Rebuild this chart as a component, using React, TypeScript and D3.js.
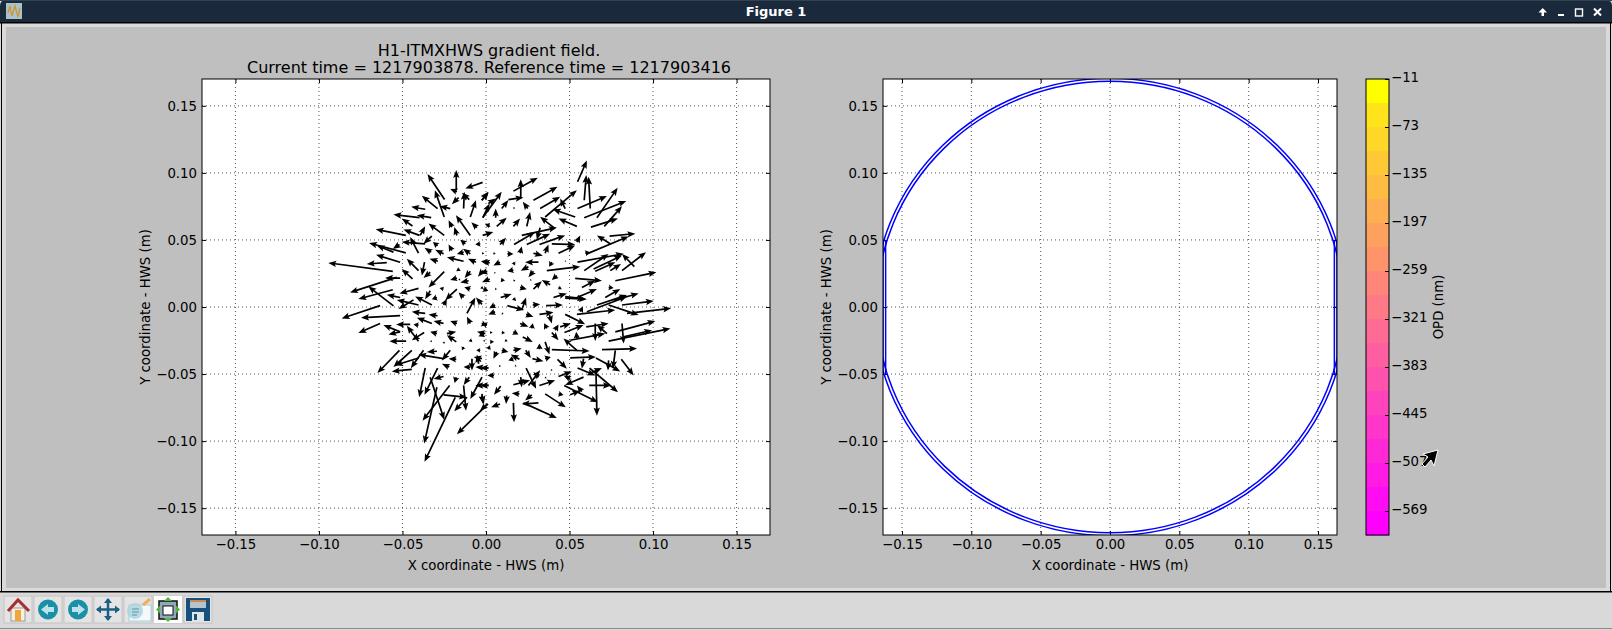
import { useRef, useEffect } from "react";
import * as d3 from "d3";

// gradient field samples: [x, y, u, v] in mm, split by quadrant of the left plot
const arrowsUpperLeft = [
  [-24.8, 80.1, -10.2, 19], [-17.8, 87.1, 0, 15], [-2, 92.9, -10.4, -4.5], [-25, 67.1, -5.6, 20],
  [-29, 73.4, -9.4, 9.5], [-13.4, 73.4, 0.4, 12.5], [-17.4, 85.9, -4, 2], [-16.4, 81.6, -4, -5],
  [-10, 80.1, -4.4, 5], [-36.4, 72.9, -8.4, 1.8], [-21.4, 73.4, -6.4, 1.8], [-39.8, 66.6, -15.6, 2.3],
  [-32.8, 66.6, -8.6, 1.8], [-44, 60.4, -6.4, 5.5], [-9.4, 67.1, 3.4, 12.5], [-1.8, 67.1, 4, 10],
  [-2.4, 79.6, 4, 6], [-39.8, 53.4, -9.6, 4.3], [-48, 53.4, -18, 4.5], [-25, 53.4, -9.4, 8.8],
  [-39.4, 53.4, 3, 6.8], [-17.4, 53.4, -1.6, 6.3], [-9.4, 53.4, -8.6, 15], [-20.4, 59.6, -2, 5],
  [-5.4, 59.1, -3.4, 4], [-36.4, 47.1, -14, 1.3], [-40.4, 40.1, -5, 12], [-32.4, 52.9, -5, -5.8],
  [-48, 40.4, -22, 7.3], [-55.4, 40.9, -10, 5], [-51.8, 46.6, -4, -3.3], [-29, 45.6, -2.8, 2.8],
  [-12.4, 47.1, -3, 3], [-3.4, 47.1, -3, -0.5], [-32.8, 40.9, -4, 3.3], [-25.4, 39.6, -5, 3],
  [-9.4, 39.6, -4.4, 3.8], [-20.4, 42.1, -2, 4.5], [-13.4, 40.9, -4, -1.3], [-51.4, 33.4, -14.4, 5.5],
  [-59.4, 33.1, -12, -1], [-40.4, 27.1, -7, 8.8], [-55.8, 26.6, -38.6, 6.3], [-28.8, 34.1, -5, 1.8],
  [-13.4, 34.1, -10, 3], [-6, 33.4, -4.8, 2.5], [2.2, 32.9, -4.6, 1.3], [-36.8, 33.4, -1.6, -10],
  [-44, 20.9, -6.4, 7.5], [-33.4, 25.9, -4, -4.3], [-25, 26.4, -9.4, -11.8], [-15.8, 28.4, -2, -1.8],
  [-9.4, 26.6, -3.4, -5], [-1.8, 27.1, -3, -4.5], [-17.4, 21.6, -4, -1.5], [-51.4, 21.6, -9, 0],
  [-53.4, 22.1, -28, -11.3], [-10.4, 19.6, -5, -1.3], [2.2, 20.9, -4.6, -2.5], [-55.8, 12.9, -20.6, -7],
  [-40.4, 13.9, -11.4, -3.8], [-55.4, 0.8, -15, 14.5], [-25.4, 13.4, -2.4, 0.8], [-17.4, 13.4, -7, -8.3],
  [-13.4, 7.1, -3, 3.8], [-9.4, 13.4, -3.6, 1.3], [-1.8, 14.6, -1.6, -0.8], [-33.4, 12.1, -3, -6.3],
  [-51.4, 7.1, -8, 2], [-29.4, 7.1, -3, -1.3],
];

const arrowsUpperRight = [
  [54.8, 93.4, 5.6, 15.8], [58.8, 79.6, 1.2, 18.8], [62.4, 73.4, -1, 23.8], [28.4, 79.6, 14.4, 10],
  [32.4, 73.4, 12, 8.8], [16.4, 86.4, 14.6, 10], [20.8, 80.9, 0, 14.3], [13.4, 80.1, 9, 1.5],
  [9.4, 73.4, 4, 6.3], [25, 73.4, -3, 5], [-2, 66.6, 11.4, 19.3], [-2.6, 79.6, 4, 6.3],
  [1.4, 77.1, 4.4, 3.8], [5.8, 66.6, 0, 6.8], [35.4, 67.1, 19, 20], [54.8, 73.4, 17.6, 9.3],
  [66.4, 66.6, 12.4, 22.3], [58.8, 66.6, 25.2, 12.5], [70.8, 60.1, 10.6, 15], [62.8, 59.6, 16.2, 6.3],
  [53.4, 67.1, -13.4, 5.8], [47.4, 73.4, -3, 7.5], [41.4, 58.4, -9, 8.8], [54.4, 60.1, -11, 5.8],
  [24.4, 60.1, 2, 10.8], [16.4, 60.1, 4, 5.8], [6.4, 60.1, 6, 6.5], [0.4, 60.1, 2, 2.5],
  [-2, 53.4, 6.4, 2.5], [21.4, 53.4, 21, 5.8], [16.8, 46.6, 12.6, 9.3], [24.4, 46.6, 14, 8],
  [32, 46.6, 15.4, 6.8], [32.4, 59.1, -2, -9], [8.4, 46.6, 3.6, 5], [39.4, 47.1, 14, -0.5],
  [43.4, 40.1, 10, 5.8], [35.4, 40.1, 2, 6.5], [20.4, 40.1, 1, 5], [54.4, 48.4, 2, 5],
  [74.4, 47.1, -8, 6.3], [74, 52.9, 15.4, 1.8], [60.4, 39.6, 25, 13], [54.8, 33.4, 27.6, 6.3],
  [58.8, 27.1, 14.6, 12.5], [64.4, 28.4, 17, 10], [81.4, 27.1, 14.4, 13.8], [88.8, 30.1, -7.4, 9.5],
  [74.4, 27.1, 6.4, 5], [65.4, 26.6, 12, 6.8], [36.4, 27.1, 20, 3], [77.4, 19.6, 24.6, 6.3],
  [53.4, 21.4, 16, -1.8], [57.4, 14.6, 8, 5], [59.4, 40.1, 3, 0.8], [28.4, 40.1, 5.6, -1.8],
  [31.4, 33.4, -8, 0], [25.4, 30.1, -4.6, -3], [12.8, 39.6, 3.6, 0], [4.4, 40.1, 1.4, -0.5],
  [8.4, 33.4, -4, -2.5], [0.8, 33.4, -3.8, 0.8], [16.4, 33.4, 1, -2.5], [16.4, 27.6, -3.6, -1],
  [39.4, 33.4, -1.6, -3.3], [28.4, 26.6, -3, -4.5], [42.4, 23.4, -3, -3.3], [0.8, 26.6, -4.4, -1.5],
  [10.4, 20.9, -1.6, -2.5], [28.4, 13.4, 5, 5.8], [38.4, 16.6, -5, 3.5], [20.4, 14.6, 4, -1.3],
  [43.4, 14.6, 2, -1.3], [54.4, 7.1, 12, 6.3], [71.4, 7.1, 9, 6.3], [40.4, 7.1, 8, 3],
  [47.4, 6.6, 13, -0.8], [76.4, 5.1, 15, 5], [8.8, 7.1, 6.6, 2.5], [73.4, 14.6, 3, -0.5],
  [-1.6, 13.4, 3, -1.3],
];

const arrowsLowerLeft = [
  [-63.4, 1, -23, -9.5], [-51.4, -6.5, -23.4, -1.5], [-63.4, -12.3, -13, -7], [-51.4, -18.5, -10, 5],
  [-40.4, -25.5, -7, 11.5], [-51.4, -18.5, -7, -2], [-37, -19, -7.4, -5.8], [-47.8, -25.5, -10, 0],
  [-45.4, -13, -8.4, 0], [-36.4, -4.8, -8, 1.3], [-29, -6.5, -5.4, 1], [-32.4, -12.3, -9, 4.3],
  [-25.4, -12.3, -6, 1.8], [-40.4, -13.5, -3, 0.5], [-17.4, -12.3, -4, 1.8], [-29.4, -19.8, -4, 1.3],
  [-23.4, -19.8, 5.6, 1.3], [-17.8, -26, -5.6, 5], [-43.4, 5.3, -9, -6.8], [-40.4, 1.5, -13, 3.8],
  [-32.4, 1.5, -10, 6.3], [-11.4, -4.8, 5, 11.8], [-2.4, 2, -3.6, 5], [-25.4, 1.5, 2, 4.5],
  [-9.4, -12.3, -2, 5], [0.6, -13.5, -3, 1.3], [-51.8, -32.3, -13.2, -17], [-44.4, -32.3, -11, -12.5],
  [-37.4, -32.3, -7.6, -13.3], [-40.4, -38, -14, -5.5], [-44.4, -46.5, -12, -1.5], [-29.4, -33, -6, -0.5],
  [-25.4, -38.5, -15, 3], [-21.4, -32.3, -5, -7.5], [-17.8, -39, -4.6, 0.5], [-22, -44.8, -4.4, 2.5],
  [-9.4, -44.8, -4, 0], [-2.4, -38.5, -5, 1.3], [-4.4, -42.3, -1, 6.8], [1.6, -45.5, -8, 0.8],
  [-8.4, -38.5, 0, -8.8], [-36.4, -45.5, -3.6, -21.8], [-29, -45.5, -7.8, -20], [-33.4, -52.3, 8.4, -31.8],
  [-21.8, -58.5, -16.2, -26.3], [-29.4, -59.8, -7.6, -42], [-18.4, -67.3, -18.4, -48.1], [-25.4, -65.5, 14, -1.8],
  [-13.4, -58.5, 1.4, -18.8], [-11.4, -67.3, -7.6, -10.5], [-2.4, -52.3, -7, -16.3], [1.2, -72.3, -18.6, -22.5],
  [-25.4, -51.8, -6, -1.8], [-17.8, -52.3, -1, -4.3], [-10, -52.3, -3.4, -5.8], [1.6, -58.5, -8, 0],
  [-2.4, -64.8, 0.6, -7.5], [-13.4, -29.8, -1, -2.5], [-25.4, -26, 0.5, -1.5], [-8.4, -24.8, -2, -0.8],
  [-0.4, -19.8, -5, 1.3], [-3.4, -32.3, -2.4, 0],
];

const arrowsLowerRight = [
  [81.4, 1.5, 19, 3], [73.4, 1.5, 18, -7.5], [84.4, -4.8, 26.4, 3.8], [54.4, -5.5, 23, 3.3],
  [60.4, -3.5, 24, 11.3], [66.4, 1.5, 18, 7.5], [47.4, -5.5, 12, -7.3], [77.4, -18.5, 24, 8],
  [81.4, -12.3, 1, -15], [73.4, -25.5, 37, 9.5], [82.4, -22.3, 17, 5], [47, -19, 11.4, 5.5],
  [65.4, -12.3, 0, -13], [60, -14.8, 13.4, 2.5], [72.4, -19.8, -6, 6.3], [50.4, -24.8, 21, 5],
  [54.4, -23.5, -0.4, 5], [54.4, -32.3, -8, 8.8], [39.4, -31.8, 22.6, -1], [69.4, -31.8, 21, 0.8],
  [50.4, -38, 15.4, 0.8], [77.4, -32.3, -1.4, -13.8], [65.8, -38, 14.6, -10], [81, -39, 7.4, -12],
  [58.4, -38.5, -1, -7.5], [42.8, -39, 5.6, -7], [54.8, -45.5, 10.6, -5.5], [62, -45.5, 17, -18],
  [73.4, -39.8, -0.4, -7.5], [63, -49, 6.4, 3.5], [65.8, -46.5, 0.6, -34.5], [61.8, -58.5, 13, 0],
  [46.8, -58.5, 20.2, -12.5], [58.4, -52.3, -11, -5.8], [43.4, -51.8, 8, 3.8], [50.4, -53.5, -4, 2.5],
  [32, -58.5, 9.4, 3.8], [50.4, -65.5, 6, 3.3], [57.4, -63, -3, 4.5], [43.4, -64.8, 3, -0.8],
  [35.4, -64.8, 12.4, -10], [16.4, -71.5, 0.4, -14.5], [31.4, -71.5, -10, -0.8], [22.4, -71.5, 20, -11.3],
  [27.4, -65.5, -4, -4.3], [20, -64.8, -4.6, 0.5], [12.4, -66, -0.4, -6.3], [8.4, -72.3, -5.4, -2.5],
  [8.8, -59, -4, -6.5], [0.8, -72.3, -4.4, -5], [-2.6, -66, 1.4, -6.3], [16.4, -58, 10, 3.3],
  [20.8, -52.3, 0.6, -7.5], [24, -45.5, 6, -15.5], [25.4, -58.5, 7, 11.3], [31.4, -52.3, -3, 3.8],
  [1.4, -58.5, -5, 0], [4.8, -51, -4, 0], [1.4, -45.5, -5, 0], [16.4, -38.5, -3, -1.3],
  [20, -39, -5.2, 3.5], [6.4, -33.5, -2, -5], [9.4, -32.3, 4, -1.3], [16.4, -32.3, 5, 1.3],
  [23.8, -32.3, 3, -5.8], [27.8, -38.5, 6.6, -2], [35.4, -26, 2.6, -9.5], [32, -31.5, 0, 4.3],
  [35.4, -38.5, 3.4, 1.3], [22, -22.3, 6, -3.8], [16.4, -18.5, 3, -2], [2.4, -26, 2.4, 0],
  [1.4, -31.5, 1, 3], [9.4, -19, 2, -0.3], [2.4, -19, 1.6, 0], [11.4, -24.8, 1.6, -0.8],
  [-3.6, -19.8, 3, -2.5], [39.4, -19, 4, -5.8], [41.4, -17.3, 2, 4.3], [36.4, -16, -1.6, 3.8],
  [27.4, -16, 0.6, 3.8], [20.4, -12.3, 5, -2.5], [44.4, -14.8, 6.4, 2.5], [38, -6, 1.4, -6.3],
  [32, -5.5, 8.4, 1.5], [24, -5.5, 4.4, -1.8], [12.8, 1, 10, -3.3], [21.4, -2.3, 2.6, 9.3],
  [28, 1.5, 4.4, 0.5], [36, 1, 10, 0.5], [47.4, 7.8, 12, -1.8], [56.4, -3.5, 1.6, 3.8],
  [5.4, 1.5, -3.4, -2.5], [5.4, -3.5, -4, -2], [16.4, 6.5, 1.6, -2], [-2.6, -12.3, 3, -1.3],
];

// the tiny ones around the centre
const arrowsCentre = [
  [16.4, 73.4, 1, 0.8], [2.4, 60.6, -0.8, -1], [8.4, -43.5, -0.4, -1.5], [17.4, -43.5, 0.8, -1],
  [39, -46.5, 0.6, -1.2], [35.4, -52.3, 0.8, -1], [9.4, -4.8, 1.2, -0.5], [-2.4, 40, 1.4, 0],
  [-32.4, -25.5, -1.2, 0], [47.4, 34.6, 0.4, -1], [5.4, 25.9, -0.4, -1.2], [16.4, 19.6, 1.2, 0.4],
  [5.4, 13.4, 1.2, 0], [-1.4, -25.5, 1, 0.8], [-15.4, 20.5, -1.2, 0], [26.4, 20.4, 1, -0.6],
];

const xTicks = [-0.15, -0.1, -0.05, 0, 0.05, 0.1, 0.15];
const yTicks = [-0.15, -0.1, -0.05, 0, 0.05, 0.1, 0.15];

const leftLimit = 0.17;
const rightXLimit = 0.1637;

// aperture outline on the right plot
const outlineRadii = [0.1705, 0.1683];
const outlineEdges = [0.1637, 0.1618];
const outlineEdgeY = 0.05;

// colorbar levels, every other one gets a label
const opdLevels = [-11, -42, -73, -104, -135, -166, -197, -228, -259, -290, -321, -352, -383, -414, -445, -476, -507, -538, -569, -600];
const opdTicks = [-11, -73, -135, -197, -259, -321, -383, -445, -507, -569];

const titleLines = ["H1-ITMXHWS gradient field.", "Current time = 1217903878. Reference time = 1217903416"];
const toolbarButtons = ["home", "back", "forward", "pan", "zoom", "subplots", "save"];

const FONT = "'DejaVu Sans', sans-serif";
const fmt = (d: number) => d3.format(".2f")(d).replace("-", "\u2212");

const App = () => {
  const chartRef = useRef<SVGSVGElement>(null);

  useEffect(() => {
    const svg = d3.select(chartRef.current);
    svg.selectAll("*").remove();

    // window frame
    svg.append("rect").attr("width", 1612).attr("height", 630).attr("fill", "#d9d9d9");
    svg.append("path").attr("d", "M0,23V6Q0,0,6,0H1606Q1612,0,1612,6V23Z").attr("fill", "#1a2a3c");
    svg.append("rect").attr("y", 0).attr("width", 1612).attr("height", 1).attr("fill", "#33424f");
    svg.append("rect").attr("y", 22).attr("width", 1612).attr("height", 1.5).attr("fill", "#000");
    svg.append("rect").attr("x", 1).attr("y", 23).attr("width", 1).attr("height", 569).attr("fill", "#000");
    svg.append("rect").attr("x", 1610).attr("y", 23).attr("width", 1).attr("height", 569).attr("fill", "#000");
    svg.append("rect").attr("x", 6).attr("y", 27).attr("width", 1600).attr("height", 561).attr("fill", "#bfbfbf");
    svg.append("rect").attr("y", 591).attr("width", 1612).attr("height", 1.5).attr("fill", "#000");
    svg.append("rect").attr("y", 628).attr("width", 1612).attr("height", 1).attr("fill", "#8a8a8a");
    svg.append("text").attr("x", 776).attr("y", 16).attr("text-anchor", "middle")
      .attr("font-family", FONT).attr("font-size", 13).attr("font-weight", "bold").attr("fill", "#fff").text("Figure 1");

    // app icon
    svg.append("rect").attr("x", 6).attr("y", 3).attr("width", 16).attr("height", 16).attr("fill", "#a9c3c9");
    svg.append("path").attr("d", "M8,13L10,6L12,16L15,6L18,17L20,8").attr("fill", "none").attr("stroke", "#d8902a").attr("stroke-width", 1.2);

    // window buttons
    svg.append("path").attr("d", "M1541.5,16V12.5H1538.5L1542.7,8L1547,12.5H1544V16Z").attr("fill", "#fff");
    svg.append("rect").attr("x", 1558).attr("y", 14).attr("width", 6).attr("height", 2).attr("fill", "#fff");
    svg.append("rect").attr("x", 1575.5).attr("y", 9).attr("width", 7).attr("height", 7).attr("fill", "none").attr("stroke", "#fff").attr("stroke-width", 1.4);
    svg.append("path").attr("d", "M1594,8.5L1601,15.5M1601,8.5L1594,15.5").attr("stroke", "#fff").attr("stroke-width", 2);

    // toolbar
    const buttons = svg.append("g");
    toolbarButtons.forEach((name, i) => {
      const g = buttons.append("g").attr("transform", `translate(${4 + i * 30}, 596)`);
      g.append("rect").attr("width", 28).attr("height", 27).attr("fill", "#e4e4e4").attr("stroke", "#c4c4c4");
      if (name === "home") {
        g.append("rect").attr("x", 7).attr("y", 12).attr("width", 14).attr("height", 13).attr("fill", "#f6f0e2").attr("stroke", "#999");
        g.append("rect").attr("x", 11).attr("y", 14).attr("width", 6).attr("height", 11).attr("fill", "#f0a63c");
        g.append("path").attr("d", "M4,15L14,4L25,15").attr("fill", "none").attr("stroke", "#a5302f").attr("stroke-width", 3);
      } else if (name === "back" || name === "forward") {
        g.append("circle").attr("cx", 14).attr("cy", 13.5).attr("r", 10).attr("fill", "#1a8fa8");
        g.append("path").attr("d", name === "back" ? "M7,13.5L14,8V11H20V16H14V19Z" : "M21,13.5L14,8V11H8V16H14V19Z").attr("fill", "#bde3ea");
      } else if (name === "pan") {
        g.append("path").attr("d", "M14,3V24M3,13.5H25").attr("stroke", "#1d5f80").attr("stroke-width", 2.5);
        g.append("path").attr("d", "M14,2L18,7H10Z M14,25L18,20H10Z M2,13.5L7,9.5V17.5Z M26,13.5L21,9.5V17.5Z").attr("fill", "#1d5f80");
      } else if (name === "zoom") {
        g.append("rect").attr("x", 5).attr("y", 9).attr("width", 22).attr("height", 16).attr("fill", "#f4fafb").attr("stroke", "#a6d0dc");
        g.append("circle").attr("cx", 11).attr("cy", 15).attr("r", 8).attr("fill", "#a9d2dc").attr("opacity", 0.8);
        g.append("path").attr("d", "M8,13H15M8,16H15M8,19H13").attr("stroke", "#5f94a6").attr("stroke-width", 1);
        g.append("path").attr("d", "M19,9L26,3").attr("stroke", "#efb05a").attr("stroke-width", 3);
      } else if (name === "subplots") {
        g.append("rect").attr("width", 28).attr("height", 27).attr("fill", "#fff");
        g.append("rect").attr("x", 5).attr("y", 5).attr("width", 18).attr("height", 18).attr("fill", "#8fa9b5").attr("stroke", "#111").attr("stroke-width", 1.5);
        g.append("rect").attr("x", 9).attr("y", 10).attr("width", 10).attr("height", 9).attr("fill", "#fff").attr("stroke", "#111");
        g.append("path").attr("d", "M14,1L18,5H10Z M14,26L18,22H10Z M2,13.5L6,9.5V17.5Z M26,13.5L22,9.5V17.5Z").attr("fill", "#53b548");
      } else {
        g.append("rect").attr("x", 2).attr("y", 2).attr("width", 24).attr("height", 23).attr("fill", "#17507a");
        g.append("rect").attr("x", 6).attr("y", 4).attr("width", 16).attr("height", 8).attr("fill", "#b5c4cc");
        g.append("rect").attr("x", 6).attr("y", 4).attr("width", 16).attr("height", 2).attr("fill", "#cf8a4a");
        g.append("rect").attr("x", 8).attr("y", 16).attr("width", 12).attr("height", 9).attr("fill", "#dfe6ea");
        g.append("rect").attr("x", 10).attr("y", 18).attr("width", 3).attr("height", 6).attr("fill", "#17507a");
      }
    });

    const top = 79;
    const bottom = 535;

    const drawAxes = (left: number, right: number, xLimit: number, xLabel: string, yLabel: string) => {
      const xScale = d3.scaleLinear<number>().domain([-xLimit, xLimit]).range([left, right]);
      const yScale = d3.scaleLinear<number>().domain([-leftLimit, leftLimit]).range([bottom, top]);
      const w = right - left;
      const h = bottom - top;

      svg.append("rect").attr("x", left).attr("y", top).attr("width", w).attr("height", h).attr("fill", "#fff");

      const grid = svg.append("g").attr("stroke", "#555").attr("stroke-width", 1).attr("stroke-dasharray", "1,3");
      xTicks.forEach(t => {
        grid.append("line").attr("x1", xScale(t)).attr("x2", xScale(t)).attr("y1", top).attr("y2", bottom);
      });
      yTicks.forEach(t => {
        grid.append("line").attr("x1", left).attr("x2", right).attr("y1", yScale(t)).attr("y2", yScale(t));
      });

      const gx = svg.append("g").attr("transform", `translate(0, ${bottom})`)
        .call(d3.axisBottom(xScale).tickValues(xTicks).tickFormat(d => fmt(d as number)).tickSize(-4).tickPadding(5));
      const gy = svg.append("g").attr("transform", `translate(${left}, 0)`)
        .call(d3.axisLeft(yScale).tickValues(yTicks).tickFormat(d => fmt(d as number)).tickSize(-4).tickPadding(5));
      const gxTop = svg.append("g").attr("transform", `translate(0, ${top})`)
        .call(d3.axisTop(xScale).tickValues(xTicks).tickFormat(() => "").tickSize(-4));
      const gyRight = svg.append("g").attr("transform", `translate(${right}, 0)`)
        .call(d3.axisRight(yScale).tickValues(yTicks).tickFormat(() => "").tickSize(-4));
      [gx, gy, gxTop, gyRight].forEach(a => {
        a.select(".domain").remove();
        a.selectAll("text").attr("font-family", FONT).attr("font-size", 13.3).attr("fill", "#000");
      });

      svg.append("text").attr("x", (left + right) / 2).attr("y", 570).attr("text-anchor", "middle")
        .attr("font-family", FONT).attr("font-size", 13.3).text(xLabel);
      svg.append("text").attr("transform", `translate(${left - 52}, ${(top + bottom) / 2}) rotate(-90)`).attr("text-anchor", "middle")
        .attr("font-family", FONT).attr("font-size", 13.3).text(yLabel);

      return { xScale, yScale, w, h };
    };

    // left plot
    const leftAxes = drawAxes(202, 770, leftLimit, "X coordinate - HWS (m)", "Y coordinate - HWS (m)");
    const allArrows = [...arrowsUpperLeft, ...arrowsUpperRight, ...arrowsLowerLeft, ...arrowsLowerRight, ...arrowsCentre];
    svg.append("g")
      .selectAll("path")
      .data(allArrows)
      .enter()
      .append("path")
      .attr("fill", "#000")
      .attr("d", ([x, y, u, v]) => {
        const x0 = leftAxes.xScale(x / 1000);
        const y0 = leftAxes.yScale(y / 1000);
        const x1 = leftAxes.xScale((x + u) / 1000);
        const y1 = leftAxes.yScale((y + v) / 1000);
        const len = Math.hypot(x1 - x0, y1 - y0) || 1;
        const ux = (x1 - x0) / len;
        const uy = (y1 - y0) / len;
        const nx = -uy;
        const ny = ux;
        // short arrows shrink to just a head, like a quiver
        const s = Math.min(1, len / 5.5);
        const headL = Math.min(8, len);
        const headW = 3.2 * s;
        const shaft = 0.85 * s;
        const bx = x1 - ux * headL;
        const by = y1 - uy * headL;
        const sx = x1 - ux * headL * 0.85;
        const sy = y1 - uy * headL * 0.85;
        const pts = [
          [x0 + nx * shaft, y0 + ny * shaft],
          [sx + nx * shaft, sy + ny * shaft],
          [bx + nx * headW, by + ny * headW],
          [x1, y1],
          [bx - nx * headW, by - ny * headW],
          [sx - nx * shaft, sy - ny * shaft],
          [x0 - nx * shaft, y0 - ny * shaft],
        ];
        return `M${pts.map(p => `${p[0].toFixed(2)},${p[1].toFixed(2)}`).join("L")}Z`;
      });
    svg.append("rect").attr("x", 202).attr("y", top).attr("width", leftAxes.w).attr("height", leftAxes.h)
      .attr("fill", "none").attr("stroke", "#000");

    titleLines.forEach((line, i) => {
      svg.append("text").attr("x", 489).attr("y", 56 + i * 17).attr("text-anchor", "middle")
        .attr("font-family", FONT).attr("font-size", 16).text(line);
    });

    // right plot
    const rightAxes = drawAxes(883, 1337, rightXLimit, "X coordinate - HWS (m)", "Y coordinate - HWS (m)");
    const clip = svg.append("defs").append("clipPath").attr("id", "right-clip");
    clip.append("rect").attr("x", 883).attr("y", top).attr("width", rightAxes.w).attr("height", rightAxes.h);
    const outline = svg.append("g").attr("clip-path", "url(#right-clip)").attr("fill", "none").attr("stroke", "#0000ff").attr("stroke-width", 1.5);
    outlineRadii.forEach((r, i) => {
      outline.append("ellipse")
        .attr("cx", rightAxes.xScale(0)).attr("cy", rightAxes.yScale(0))
        .attr("rx", rightAxes.xScale(r) - rightAxes.xScale(0))
        .attr("ry", rightAxes.yScale(0) - rightAxes.yScale(r));
      [-1, 1].forEach(side => {
        outline.append("line")
          .attr("x1", rightAxes.xScale(side * outlineEdges[i])).attr("x2", rightAxes.xScale(side * outlineEdges[i]))
          .attr("y1", rightAxes.yScale(outlineEdgeY)).attr("y2", rightAxes.yScale(-outlineEdgeY));
      });
    });
    svg.append("rect").attr("x", 883).attr("y", top).attr("width", rightAxes.w).attr("height", rightAxes.h)
      .attr("fill", "none").attr("stroke", "#000");

    // colorbar
    const barScale = d3.scaleLinear<number>()
      .domain([opdLevels[0], opdLevels[opdLevels.length - 1]])
      .range([top, bottom]);
    const spring = d3.scaleLinear<string>().domain([0, 1]).range(["#ffff00", "#ff00ff"]);
    const bands = d3.pairs(opdLevels);
    svg.append("g")
      .selectAll("rect")
      .data(bands)
      .enter()
      .append("rect")
      .attr("x", 1366)
      .attr("width", 23)
      .attr("y", d => barScale(d[0]))
      .attr("height", d => barScale(d[1]) - barScale(d[0]) + 0.5)
      .attr("fill", (_d, i) => spring(i === 0 ? 0 : (i + 1) / bands.length));
    svg.append("rect").attr("x", 1366).attr("y", top).attr("width", 23).attr("height", bottom - top)
      .attr("fill", "none").attr("stroke", "#000");
    const cb = svg.append("g").attr("transform", "translate(1389, 0)")
      .call(d3.axisRight(barScale).tickValues(opdTicks).tickFormat(d => String(d).replace("-", "\u2212")).tickSize(-4).tickPadding(2));
    cb.select(".domain").remove();
    cb.selectAll("text").attr("font-family", FONT).attr("font-size", 13.3).attr("fill", "#000").attr("dy", "0.2em");
    svg.append("text").attr("transform", "translate(1443, 307) rotate(-90)").attr("text-anchor", "middle")
      .attr("font-family", FONT).attr("font-size", 13.3).text("OPD (nm)");

    // mouse pointer
    svg.append("path")
      .attr("d", "M1438,450L1434,466L1431,460L1425,467L1422,464L1428,457L1423,454Z")
      .attr("fill", "#000").attr("stroke", "#fff").attr("stroke-width", 1);

    return () => {
      svg.selectAll("*").remove();
    };
  }, []);

  return <svg ref={chartRef} width={1612} height={630} style={{ position: "absolute", left: 0, top: 0 }} />;
};

export default App;
